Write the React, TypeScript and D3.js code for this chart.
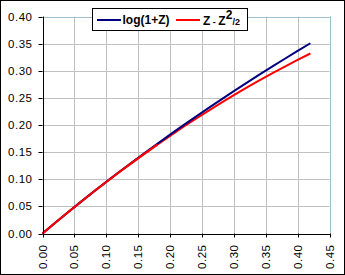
import React from "react";
import * as d3 from "d3";

const zValues = [0, 0.02, 0.04, 0.06, 0.08, 0.1, 0.12, 0.14, 0.16, 0.18, 0.2, 0.22, 0.24, 0.26, 0.28, 0.3, 0.32, 0.34, 0.36, 0.38, 0.4, 0.42];
const logSeries = [0, 0.0198, 0.0392, 0.0583, 0.077, 0.0953, 0.1133, 0.131, 0.1484, 0.1655, 0.1823, 0.1989, 0.2151, 0.2311, 0.2469, 0.2624, 0.2776, 0.2927, 0.3075, 0.3221, 0.3365, 0.3507];
const approxSeries = [0, 0.0198, 0.0392, 0.0582, 0.0768, 0.095, 0.1128, 0.1302, 0.1472, 0.1638, 0.18, 0.1958, 0.2112, 0.2262, 0.2408, 0.255, 0.2688, 0.2822, 0.2952, 0.3078, 0.32, 0.3318];
const xTicks = [0, 0.05, 0.1, 0.15, 0.2, 0.25, 0.3, 0.35, 0.4, 0.45];
const yTicks = [0, 0.05, 0.1, 0.15, 0.2, 0.25, 0.3, 0.35, 0.4];

const W = 345, H = 275;
const L = 42.5, R = 329.5, T = 16.5, B = 233.5;

export default function App() {
  const x = d3.scaleLinear().domain([0, 0.45]).range([L, R]);
  const y = d3.scaleLinear().domain([0, 0.4]).range([B, T]);
  const line = d3.line<number>().x((_, i) => x(zValues[i])).y((d) => y(d));
  const font = "Arial, 'Liberation Sans', sans-serif";
  return (
    <svg width={W} height={H} style={{ position: "fixed", left: 0, top: 0, background: "#fff" }}>
      <rect x={0.5} y={0.5} width={W - 1} height={H - 1} fill="#fff" stroke="#000" />
      {xTicks.slice(1).map((t) => (
        <line key={"gx" + t} x1={Math.round(x(t)) + 0.5} x2={Math.round(x(t)) + 0.5} y1={T} y2={B} stroke="#c0c0c0" />
      ))}
      {yTicks.slice(1).map((t) => (
        <line key={"gy" + t} x1={L} x2={R} y1={Math.round(y(t)) + 0.5} y2={Math.round(y(t)) + 0.5} stroke="#c0c0c0" />
      ))}
      <line x1={L} x2={R} y1={Math.round(y(0.4)) + 0.5} y2={Math.round(y(0.4)) + 0.5} stroke="#9fbfcf" />
      <line x1={Math.round(R) + 0.5} x2={Math.round(R) + 0.5} y1={T} y2={B} stroke="#9fbfcf" />
      <path d={line(approxSeries) || ""} fill="none" stroke="#ff0000" strokeWidth={2} />
      <path d={line(logSeries) || ""} fill="none" stroke="#000080" strokeWidth={2} />
      <path d={line(approxSeries.slice(0, 10)) || ""} fill="none" stroke="#ff0000" strokeWidth={2} />
      <line x1={Math.round(L) + 0.5} x2={Math.round(L) + 0.5} y1={T} y2={B + 0.5} stroke="#000" />
      <line x1={L} x2={R + 1} y1={Math.round(B) + 0.5} y2={Math.round(B) + 0.5} stroke="#000" />
      {yTicks.map((t) => (
        <g key={"ty" + t}>
          <line x1={L - 4} x2={L} y1={Math.round(y(t)) + 0.5} y2={Math.round(y(t)) + 0.5} stroke="#000" />
          <text x={L - 10} y={y(t)} dy="0.35em" textAnchor="end" fontFamily={font} fontSize={11.5} fill="#000" letterSpacing={0.5}>
            {t.toFixed(2)}
          </text>
        </g>
      ))}
      {xTicks.map((t) => (
        <g key={"tx" + t}>
          <line x1={Math.round(x(t)) + 0.5} x2={Math.round(x(t)) + 0.5} y1={B} y2={B + 4} stroke="#000" />
          <text transform={`translate(${x(t)},${B + 11}) rotate(-90)`} dy="0.35em" textAnchor="end" fontFamily={font} fontSize={11.5} fill="#000" letterSpacing={0.5}>
            {t.toFixed(2)}
          </text>
        </g>
      ))}
      <rect x={92.5} y={8.5} width={155} height={22} fill="#fff" stroke="#000" />
      <line x1={97} x2={121} y1={20} y2={20} stroke="#000080" strokeWidth={2} />
      <text x={122.5} y={24} fontFamily={font} fontSize={12} fontWeight="bold" fill="#000">log(1+Z)</text>
      <line x1={176} x2={200} y1={20} y2={20} stroke="#ff0000" strokeWidth={2} />
      <text x={203} y={24.5} fontFamily={font} fontSize={12} fontWeight="bold" fill="#000">
        Z<tspan fontSize={9}> - </tspan>Z<tspan fontSize={12} dy={-6}>2</tspan><tspan fontSize={9} dy={6}>/2</tspan>
      </text>
    </svg>
  );
}
